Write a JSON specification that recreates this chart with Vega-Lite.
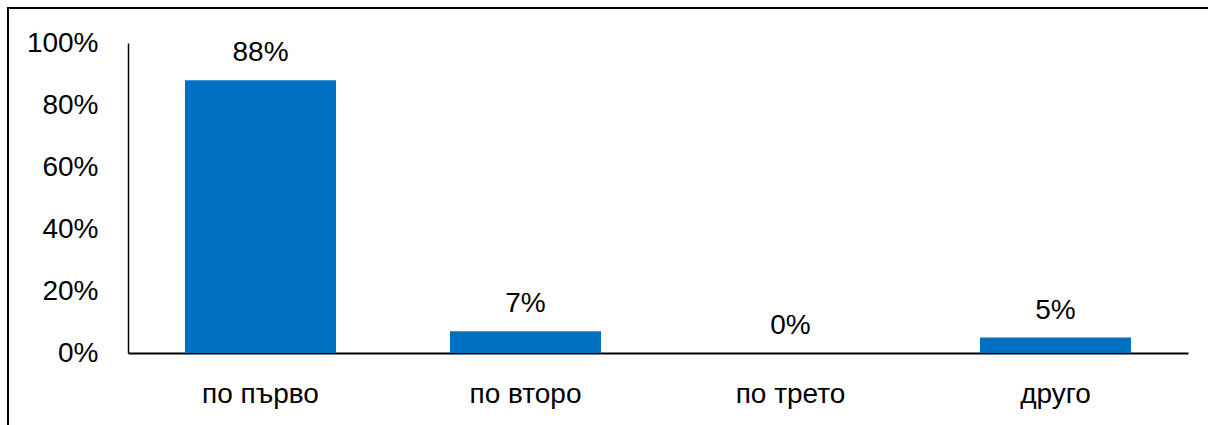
{
  "$schema": "https://vega.github.io/schema/vega-lite/v6.json",
  "autosize": "none",
  "padding": {"left": 8, "top": 8, "right": 0, "bottom": 0},
  "width": 1201,
  "height": 418,
  "background": "white",
  "config": {
    "view": {"stroke": "black", "strokeWidth": 2},
    "font": "Liberation Sans"
  },
  "data": {
    "values": [
      {"category": "по първо", "value": 0.88, "label": "88%"},
      {"category": "по второ", "value": 0.07, "label": "7%"},
      {"category": "по трето", "value": 0.0, "label": "0%"},
      {"category": "друго", "value": 0.05, "label": "5%"}
    ]
  },
  "encoding": {
    "x": {
      "field": "category",
      "type": "nominal",
      "sort": null,
      "scale": {"range": [120, 1180], "paddingInner": 0.43, "paddingOuter": 0.215},
      "axis": {
        "title": null,
        "offset": -73,
        "ticks": false,
        "labelPadding": 27,
        "labelAngle": 0,
        "labelFontSize": 28,
        "labelColor": "black",
        "domainColor": "black",
        "domainWidth": 2,
        "grid": false
      }
    },
    "y": {
      "field": "value",
      "type": "quantitative",
      "scale": {"domain": [0, 1], "range": [345, 35]},
      "axis": {
        "title": null,
        "offset": -120,
        "values": [0, 0.2, 0.4, 0.6, 0.8, 1],
        "format": ".0%",
        "ticks": false,
        "labelPadding": 30,
        "labelFontSize": 28,
        "labelColor": "black",
        "domainColor": "black",
        "domainWidth": 1.5,
        "grid": false
      }
    }
  },
  "layer": [
    {"mark": {"type": "bar", "color": "#0070C0"}},
    {
      "mark": {"type": "text", "baseline": "bottom", "dy": -13, "fontSize": 28, "color": "black"},
      "encoding": {"text": {"field": "label"}}
    }
  ]
}
